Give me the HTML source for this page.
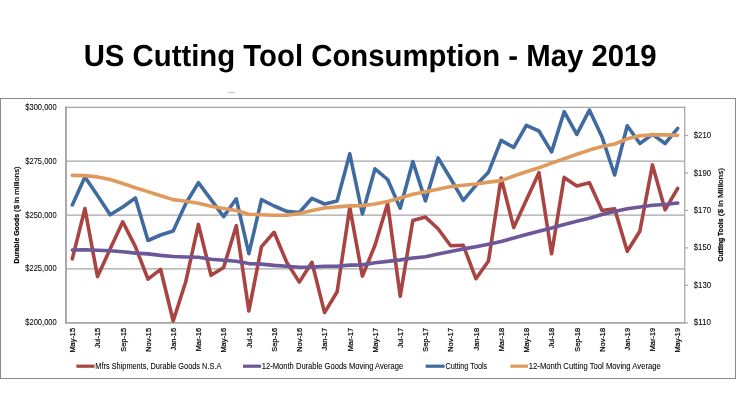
<!DOCTYPE html>
<html><head><meta charset="utf-8"><title>US Cutting Tool Consumption - May 2019</title>
<style>
html,body{margin:0;padding:0;background:#fff;width:736px;height:414px;overflow:hidden}
svg{display:block;position:absolute;left:0;top:0}
.t{font-family:'Liberation Sans', Arial, sans-serif;fill:#000;stroke:#000;stroke-width:0.22px}
.l{font-family:'Liberation Sans',Arial,sans-serif;fill:#000;stroke:#000;stroke-width:0.06px}
.h{font-family:'Liberation Sans',Arial,sans-serif;fill:#000}
</style></head><body>
<svg width="736" height="414" viewBox="0 0 736 414">

<text class="h" x="370.2" y="65.8" text-anchor="middle" font-size="30.5" font-weight="bold" fill="#000" textLength="573" lengthAdjust="spacingAndGlyphs" text-rendering="geometricPrecision">US Cutting Tool Consumption - May 2019</text>
<ellipse cx="231.5" cy="92.4" rx="4" ry="0.7" fill="#9a9a9a" opacity="0.55"/>
<rect x="0.5" y="98.5" width="735" height="280" fill="none" stroke="#8A8A8A" stroke-width="1"/>
<line x1="65" y1="107.40" x2="685" y2="107.40" stroke="#A6A6A6" stroke-width="1.3"/>
<line x1="65" y1="161.10" x2="685" y2="161.10" stroke="#A6A6A6" stroke-width="1.3"/>
<line x1="65" y1="215.10" x2="685" y2="215.10" stroke="#A6A6A6" stroke-width="1.3"/>
<line x1="65" y1="268.80" x2="685" y2="268.80" stroke="#A6A6A6" stroke-width="1.3"/>
<line x1="66" y1="106.6" x2="66" y2="323.8" stroke="#A6A6A6" stroke-width="1.9"/>
<line x1="684.7" y1="106.6" x2="684.7" y2="323.5" stroke="#A6A6A6" stroke-width="1.2"/>
<line x1="65" y1="322.8" x2="684.7" y2="322.8" stroke="#A6A6A6" stroke-width="1.7"/>
<line x1="684.5" y1="322.80" x2="688" y2="322.80" stroke="#A6A6A6" stroke-width="1.2"/>
<line x1="684.5" y1="285.34" x2="688" y2="285.34" stroke="#A6A6A6" stroke-width="1.2"/>
<line x1="684.5" y1="247.88" x2="688" y2="247.88" stroke="#A6A6A6" stroke-width="1.2"/>
<line x1="684.5" y1="210.42" x2="688" y2="210.42" stroke="#A6A6A6" stroke-width="1.2"/>
<line x1="684.5" y1="172.96" x2="688" y2="172.96" stroke="#A6A6A6" stroke-width="1.2"/>
<line x1="684.5" y1="135.50" x2="688" y2="135.50" stroke="#A6A6A6" stroke-width="1.2"/>
<polyline points="72.31,258.90 84.92,208.60 97.53,276.60 110.14,249.00 122.76,221.80 135.37,246.60 147.98,279.20 160.59,269.30 173.20,321.00 185.82,281.50 198.43,224.40 211.04,275.30 223.65,267.50 236.27,225.70 248.88,311.00 261.49,246.60 274.10,232.30 286.71,262.30 299.33,282.10 311.94,262.30 324.55,312.60 337.16,291.70 349.78,207.40 362.39,276.10 375.00,245.30 387.61,203.50 400.22,296.20 412.84,220.50 425.45,217.10 438.06,228.80 450.67,245.80 463.29,245.30 475.90,278.70 488.51,261.00 501.12,178.00 513.73,227.60 526.35,200.00 538.96,172.70 551.57,253.70 564.18,177.40 576.80,186.00 589.41,182.70 602.02,210.50 614.63,208.70 627.24,251.30 639.86,231.20 652.47,164.90 665.08,209.80 677.69,188.40" fill="none" stroke="#A84442" stroke-width="3.6" stroke-linejoin="round" stroke-linecap="round"/>
<polyline points="72.31,250.00 84.92,249.70 97.53,250.30 110.14,250.80 122.76,251.80 135.37,253.10 147.98,253.90 160.59,255.40 173.20,256.50 185.82,257.00 198.43,257.30 211.04,259.20 223.65,260.20 236.27,261.30 248.88,263.60 261.49,264.10 274.10,265.40 286.71,266.20 299.33,267.20 311.94,267.00 324.55,266.20 337.16,266.20 349.78,265.10 362.39,264.90 375.00,262.80 387.61,261.40 400.22,259.90 412.84,258.00 425.45,256.70 438.06,254.10 450.67,251.50 463.29,248.90 475.90,246.80 488.51,244.20 501.12,241.60 513.73,238.00 526.35,234.60 538.96,231.20 551.57,228.00 564.18,224.40 576.80,221.30 589.41,218.20 602.02,214.50 614.63,211.40 627.24,208.80 639.86,207.00 652.47,205.30 665.08,204.50 677.69,203.00" fill="none" stroke="#6C5799" stroke-width="3.6" stroke-linejoin="round" stroke-linecap="round"/>
<polyline points="72.31,205.00 84.92,177.00 97.53,195.50 110.14,214.80 122.76,207.00 135.37,198.00 147.98,240.50 160.59,235.00 173.20,231.00 185.82,203.50 198.43,182.70 211.04,199.60 223.65,216.60 236.27,198.80 248.88,253.70 261.49,199.60 274.10,206.00 286.71,211.40 299.33,212.50 311.94,198.30 324.55,204.00 337.16,200.90 349.78,153.80 362.39,214.00 375.00,168.80 387.61,179.50 400.22,208.20 412.84,161.50 425.45,200.90 438.06,157.90 450.67,178.70 463.29,200.40 475.90,185.30 488.51,172.20 501.12,140.40 513.73,147.40 526.35,125.30 538.96,131.00 551.57,151.90 564.18,111.70 576.80,134.40 589.41,110.10 602.02,137.00 614.63,175.00 627.24,125.80 639.86,143.50 652.47,134.40 665.08,143.50 677.69,128.40" fill="none" stroke="#3F6BA1" stroke-width="3.6" stroke-linejoin="round" stroke-linecap="round"/>
<polyline points="72.31,175.40 84.92,175.60 97.53,176.90 110.14,179.50 122.76,183.50 135.37,187.80 147.98,191.60 160.59,195.80 173.20,199.60 185.82,201.30 198.43,203.20 211.04,206.20 223.65,208.40 236.27,210.50 248.88,214.30 261.49,214.70 274.10,215.20 286.71,215.30 299.33,213.50 311.94,210.50 324.55,208.00 337.16,206.90 349.78,205.90 362.39,205.60 375.00,204.00 387.61,201.40 400.22,198.00 412.84,194.30 425.45,191.80 438.06,189.20 450.67,186.60 463.29,185.30 475.90,184.00 488.51,182.10 501.12,180.60 513.73,176.00 526.35,171.70 538.96,167.80 551.57,163.10 564.18,158.70 576.80,154.20 589.41,150.10 602.02,146.60 614.63,144.00 627.24,138.80 639.86,135.70 652.47,134.90 665.08,134.90 677.69,135.20" fill="none" stroke="#E09A5C" stroke-width="3.6" stroke-linejoin="round" stroke-linecap="round"/>
<text class="l" x="56.7" y="110.00" text-anchor="end" font-size="8.2" textLength="31.4" lengthAdjust="spacingAndGlyphs">$300,000</text>
<text class="l" x="56.7" y="163.70" text-anchor="end" font-size="8.2" textLength="31.4" lengthAdjust="spacingAndGlyphs">$275,000</text>
<text class="l" x="56.7" y="217.70" text-anchor="end" font-size="8.2" textLength="31.4" lengthAdjust="spacingAndGlyphs">$250,000</text>
<text class="l" x="56.7" y="271.40" text-anchor="end" font-size="8.2" textLength="31.4" lengthAdjust="spacingAndGlyphs">$225,000</text>
<text class="l" x="56.7" y="325.40" text-anchor="end" font-size="8.2" textLength="31.4" lengthAdjust="spacingAndGlyphs">$200,000</text>
<text class="l" x="693.8" y="325.40" font-size="8.2" textLength="17.2" lengthAdjust="spacingAndGlyphs">$110</text>
<text class="l" x="693.8" y="287.94" font-size="8.2" textLength="17.2" lengthAdjust="spacingAndGlyphs">$130</text>
<text class="l" x="693.8" y="250.48" font-size="8.2" textLength="17.2" lengthAdjust="spacingAndGlyphs">$150</text>
<text class="l" x="693.8" y="213.02" font-size="8.2" textLength="17.2" lengthAdjust="spacingAndGlyphs">$170</text>
<text class="l" x="693.8" y="175.56" font-size="8.2" textLength="17.2" lengthAdjust="spacingAndGlyphs">$190</text>
<text class="l" x="693.8" y="138.10" font-size="8.2" textLength="17.2" lengthAdjust="spacingAndGlyphs">$210</text>
<text class="t" transform="translate(75.11,327.9) rotate(-90)" text-anchor="end" font-size="8" textLength="24.66" lengthAdjust="spacingAndGlyphs">May-15</text>
<text class="t" transform="translate(100.33,327.9) rotate(-90)" text-anchor="end" font-size="8" textLength="20.14" lengthAdjust="spacingAndGlyphs">Jul-15</text>
<text class="t" transform="translate(125.56,327.9) rotate(-90)" text-anchor="end" font-size="8" textLength="23.84" lengthAdjust="spacingAndGlyphs">Sep-15</text>
<text class="t" transform="translate(150.78,327.9) rotate(-90)" text-anchor="end" font-size="8" textLength="23.83" lengthAdjust="spacingAndGlyphs">Nov-15</text>
<text class="t" transform="translate(176.00,327.9) rotate(-90)" text-anchor="end" font-size="8" textLength="22.61" lengthAdjust="spacingAndGlyphs">Jan-16</text>
<text class="t" transform="translate(201.23,327.9) rotate(-90)" text-anchor="end" font-size="8" textLength="23.42" lengthAdjust="spacingAndGlyphs">Mar-16</text>
<text class="t" transform="translate(226.45,327.9) rotate(-90)" text-anchor="end" font-size="8" textLength="24.66" lengthAdjust="spacingAndGlyphs">May-16</text>
<text class="t" transform="translate(251.68,327.9) rotate(-90)" text-anchor="end" font-size="8" textLength="20.14" lengthAdjust="spacingAndGlyphs">Jul-16</text>
<text class="t" transform="translate(276.90,327.9) rotate(-90)" text-anchor="end" font-size="8" textLength="23.84" lengthAdjust="spacingAndGlyphs">Sep-16</text>
<text class="t" transform="translate(302.13,327.9) rotate(-90)" text-anchor="end" font-size="8" textLength="23.83" lengthAdjust="spacingAndGlyphs">Nov-16</text>
<text class="t" transform="translate(327.35,327.9) rotate(-90)" text-anchor="end" font-size="8" textLength="22.61" lengthAdjust="spacingAndGlyphs">Jan-17</text>
<text class="t" transform="translate(352.58,327.9) rotate(-90)" text-anchor="end" font-size="8" textLength="23.42" lengthAdjust="spacingAndGlyphs">Mar-17</text>
<text class="t" transform="translate(377.80,327.9) rotate(-90)" text-anchor="end" font-size="8" textLength="24.66" lengthAdjust="spacingAndGlyphs">May-17</text>
<text class="t" transform="translate(403.02,327.9) rotate(-90)" text-anchor="end" font-size="8" textLength="20.14" lengthAdjust="spacingAndGlyphs">Jul-17</text>
<text class="t" transform="translate(428.25,327.9) rotate(-90)" text-anchor="end" font-size="8" textLength="23.84" lengthAdjust="spacingAndGlyphs">Sep-17</text>
<text class="t" transform="translate(453.47,327.9) rotate(-90)" text-anchor="end" font-size="8" textLength="23.83" lengthAdjust="spacingAndGlyphs">Nov-17</text>
<text class="t" transform="translate(478.70,327.9) rotate(-90)" text-anchor="end" font-size="8" textLength="22.61" lengthAdjust="spacingAndGlyphs">Jan-18</text>
<text class="t" transform="translate(503.92,327.9) rotate(-90)" text-anchor="end" font-size="8" textLength="23.42" lengthAdjust="spacingAndGlyphs">Mar-18</text>
<text class="t" transform="translate(529.15,327.9) rotate(-90)" text-anchor="end" font-size="8" textLength="24.66" lengthAdjust="spacingAndGlyphs">May-18</text>
<text class="t" transform="translate(554.37,327.9) rotate(-90)" text-anchor="end" font-size="8" textLength="20.14" lengthAdjust="spacingAndGlyphs">Jul-18</text>
<text class="t" transform="translate(579.60,327.9) rotate(-90)" text-anchor="end" font-size="8" textLength="23.84" lengthAdjust="spacingAndGlyphs">Sep-18</text>
<text class="t" transform="translate(604.82,327.9) rotate(-90)" text-anchor="end" font-size="8" textLength="23.83" lengthAdjust="spacingAndGlyphs">Nov-18</text>
<text class="t" transform="translate(630.04,327.9) rotate(-90)" text-anchor="end" font-size="8" textLength="22.61" lengthAdjust="spacingAndGlyphs">Jan-19</text>
<text class="t" transform="translate(655.27,327.9) rotate(-90)" text-anchor="end" font-size="8" textLength="23.42" lengthAdjust="spacingAndGlyphs">Mar-19</text>
<text class="t" transform="translate(680.49,327.9) rotate(-90)" text-anchor="end" font-size="8" textLength="24.66" lengthAdjust="spacingAndGlyphs">May-19</text>
<text class="t" transform="translate(18.6,263.4) rotate(-90)" font-size="7.4" font-weight="bold" textLength="49.4" lengthAdjust="spacingAndGlyphs">Durable Goods</text>
<text class="t" transform="translate(18.6,211.9) rotate(-90)" font-size="7.4" textLength="45.5" lengthAdjust="spacingAndGlyphs">($ in millions)</text>
<text class="t" transform="translate(723.4,261.4) rotate(-90)" font-size="7.4" font-weight="bold" textLength="42.8" lengthAdjust="spacingAndGlyphs">Cutting Tools</text>
<text class="t" transform="translate(723.4,216.2) rotate(-90)" font-size="7.4" textLength="48.2" lengthAdjust="spacingAndGlyphs">($ in Millions)</text>
<line x1="76.4" y1="366.2" x2="94.5" y2="366.2" stroke="#A84442" stroke-width="3.2"/>
<text class="l" x="95.3" y="369" font-size="8.2" textLength="126" lengthAdjust="spacingAndGlyphs">Mfrs Shipments, Durable Goods N.S.A</text>
<line x1="243" y1="366.2" x2="261" y2="366.2" stroke="#6C5799" stroke-width="3.2"/>
<text class="l" x="261.8" y="369" font-size="8.2" textLength="141.4" lengthAdjust="spacingAndGlyphs">12-Month Durable Goods Moving Average</text>
<line x1="425.7" y1="366.2" x2="444.6" y2="366.2" stroke="#3F6BA1" stroke-width="3.2"/>
<text class="l" x="445.4" y="369" font-size="8.2" textLength="41.8" lengthAdjust="spacingAndGlyphs">Cutting Tools</text>
<line x1="510.4" y1="366.2" x2="528" y2="366.2" stroke="#E09A5C" stroke-width="3.2"/>
<text class="l" x="528.8" y="369" font-size="8.2" textLength="132" lengthAdjust="spacingAndGlyphs">12-Month Cutting Tool Moving Average</text>
</svg>
</body></html>
